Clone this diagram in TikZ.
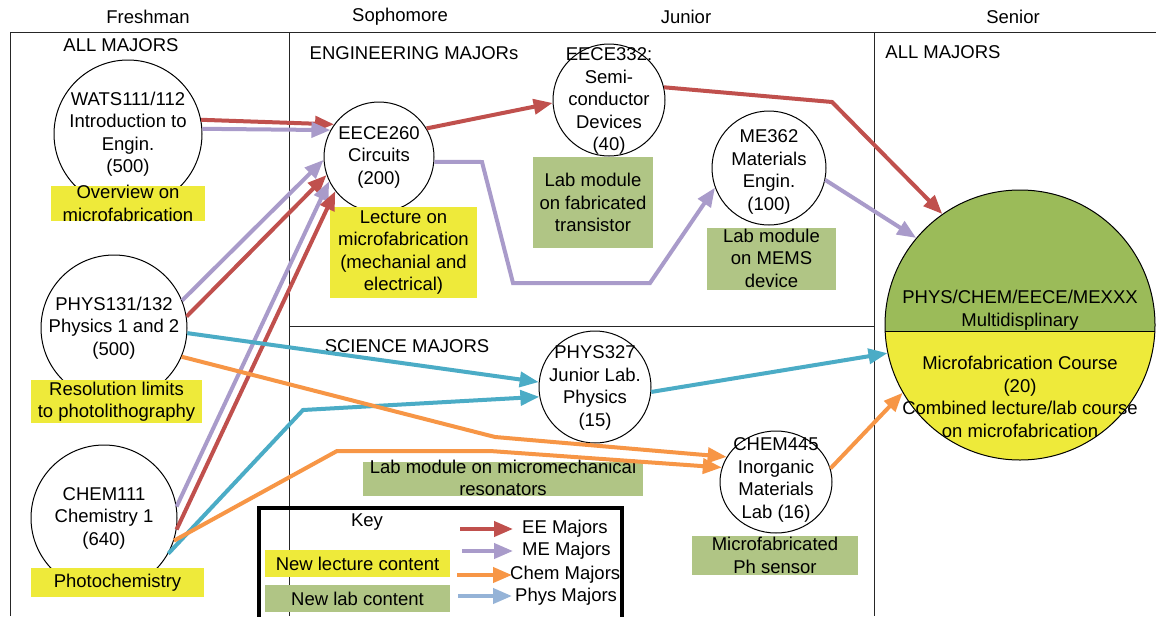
\documentclass[tikz,border=0pt]{standalone}
\usepackage{fontspec}
\setmainfont{Liberation Sans}
\usetikzlibrary{arrows.meta,shapes.geometric}
\definecolor{eered}{RGB}{192,80,77}
\definecolor{mepurple}{RGB}{169,155,202}
\definecolor{chemorange}{RGB}{247,150,70}
\definecolor{physteal}{RGB}{75,172,198}
\definecolor{keyblue}{RGB}{149,179,215}
\definecolor{lecyellow}{RGB}{238,234,58}
\definecolor{labgreen}{RGB}{176,197,133}
\definecolor{biggreen}{RGB}{155,187,89}
\begin{document}
\begin{tikzpicture}[x=1pt,y=-1pt,
  font=\fontsize{18.5}{22.5}\selectfont,
  course/.style={circle, draw=black, line width=1pt, fill=white, inner sep=0pt},
  txt/.style={inner sep=0pt, align=center},
  lec/.style={fill=lecyellow, inner sep=0pt},
  lab/.style={fill=labgreen, inner sep=0pt},
  frameline/.style={draw=black!85, line width=1pt},
  arr/.style={line width=4pt, line join=miter, -{Triangle[length=19pt,width=15pt]}},
  ee/.style={arr, draw=eered},
  me/.style={arr, draw=mepurple},
  ch/.style={arr, draw=chemorange},
  ph/.style={arr, draw=physteal},
  kb/.style={arr, draw=keyblue}]
\useasboundingbox (0,0) rectangle (1156,616);
\fill[white] (0,0) rectangle (1156,616);

% frame
\draw[frameline] (10,616) -- (10,32) -- (1156,32);
\draw[frameline] (289,32) -- (289,616);
\draw[frameline] (874,32) -- (874,616);
\draw[frameline] (289,326) -- (874,326);

% headers
\node[txt] (hfr) at (148,17) {Freshman};
\node[txt] (hso) at (400,17) {Sophomore};
\node[txt] (hju) at (686,17) {Junior};
\node[txt] (hse) at (1013,17) {Senior};
\node[txt] (allA) at (121,45) {ALL MAJORS};
\node[txt] (allB) at (943,52) {ALL MAJORS};
\node[txt] (engm) at (414,53) {ENGINEERING MAJORs};
\node[txt] (scim) at (407,346) {SCIENCE MAJORS};

% courses
\node[course, minimum size=148pt] (wats) at (128,134) {};
\node[txt] (watst) at (wats) {WATS111/112\\Introduction to\\Engin.\\(500)};
\node[course, minimum size=146pt] (phys131) at (114,328) {};
\node[txt] (phys131t) at (phys131) {PHYS131/132\\Physics 1 and 2\\(500)};
\node[course, minimum size=146pt] (chem111) at (104,518) {};
\node[txt] (chem111t) at (chem111) {CHEM111\\Chemistry 1\\(640)};
\node[course, minimum size=110pt] (eece260) at (379,157) {};
\node[txt] (eece260t) at (eece260) {EECE260\\Circuits\\(200)};
\node[course, minimum size=112pt] (eece332) at (609,100) {};
\node[txt] (eece332t) at (609,101) {EECE332:\\Semi-\\conductor\\Devices\\(40)};
\node[course, minimum size=114pt] (me362) at (769,168) {};
\node[txt] (me362t) at (769,172) {ME362\\Materials\\Engin.\\(100)};
\node[course, minimum size=112pt] (phys327) at (595,387) {};
\node[txt] (phys327t) at (595,388) {PHYS327\\Junior Lab.\\Physics\\(15)};
\node[course, ellipse, minimum width=112pt, minimum height=102pt] (chem445) at (776,482) {};
\node[txt] (chem445t) at (776,480) {CHEM445\\Inorganic\\Materials\\Lab (16)};

% big senior course
\begin{scope}
\clip (1020,325) circle[radius=135pt];
\fill[biggreen] (880,185) rectangle (1160,331);
\fill[lecyellow] (880,331) rectangle (1160,465);
\end{scope}
\draw[line width=1pt] (885,331) -- (1155,331);
\node[circle, draw=black, line width=1pt, minimum size=270pt, inner sep=0pt] (big) at (1020,325) {};
\node[txt] (bigA) at (1020,310) {PHYS/CHEM/EECE/MEXXX\\Multidisplinary};
\node[txt] (bigB) at (1020,397) {Microfabrication Course\\(20)\\Combined lecture/lab course\\on microfabrication};

% content boxes
\node[lec, minimum width=154pt, minimum height=35pt] (b1) at (128,203.5) {};
\node[txt] (b1t) at (b1) {Overview on\\microfabrication};
\node[lec, minimum width=171pt, minimum height=43pt] (b2) at (116.5,401.5) {};
\node[txt] (b2t) at (b2) {Resolution limits\\to photolithography};
\node[lec, minimum width=173pt, minimum height=29pt] (b3) at (117.5,582.5) {};
\node[txt] (b3t) at (b3) {Photochemistry};
\node[lec, minimum width=147pt, minimum height=91pt] (b4) at (403.5,252.5) {};
\node[txt] (b4t) at (b4) {Lecture on\\microfabrication\\(mechanial and\\electrical)};
\node[lab, minimum width=120pt, minimum height=91pt] (b5) at (593,202.5) {};
\node[txt] (b5t) at (b5) {Lab module\\on fabricated\\transistor};
\node[lab, minimum width=129pt, minimum height=62pt] (b6) at (771.5,259) {};
\node[txt] (b6t) at (771.5,258) {Lab module\\on MEMS\\device};
\node[lab, minimum width=280pt, minimum height=34pt] (b7) at (503,479) {};
\node[txt] (b7t) at (503,478) {Lab module on micromechanical\\resonators};
\node[lab, minimum width=166pt, minimum height=39pt] (b8) at (775,555.5) {};
\node[txt] (b8t) at (b8) {Microfabricated\\Ph sensor};

% connectors
\draw[ee] (wats.11) -- (eece260.144);
\draw[me] (wats.4) -- (eece260.151);
\draw[me] (phys131.22) -- (eece260.183);
\draw[ee] (phys131.9) -- (eece260.199);
\draw[me] (chem111.9) -- (eece260.206);
\draw[ee] (chem111.351) -- (eece260.218);
\draw[ee] (eece260.31) -- (eece332.183);
\draw[ee] (eece332.13) -- (832,102) -- (big.125);
\draw[me] (eece260.355) -- (482,162) -- (513,283) -- (650,283) -- (me362.200);
\draw[me] (me362.348) -- (big.140);
\draw[ph] (phys131.356) -- (phys327.175);
\draw[ph] (chem111.331) -- (303,410) -- (phys327.190);
\draw[ph] (phys327.355) -- (big.192);
\draw[ch] (phys131.337) -- (495,437) -- (chem445.153);
\draw[ch] (chem111.342) -- (337,451) -- (490,451) -- (chem445.165);
\draw[ch] (chem445.14) -- (big.210);

% key
\draw[line width=4.5pt] (259,625) -- (259,508) -- (622,508) -- (622,625);
\node[txt] (key) at (367,522) {Key};
\node[lec, minimum width=185pt, minimum height=27pt] (klec) at (357.5,563.5) {};
\node[txt] (klect) at (klec) {New lecture content};
\node[lab, minimum width=185pt, minimum height=27pt] (klab) at (357.5,598.5) {};
\node[txt] (klabt) at (klab) {New lab content};
\coordinate (k1a) at (460,529); \coordinate (k1b) at (513,529);
\coordinate (k2a) at (462,551); \coordinate (k2b) at (513,551);
\coordinate (k3a) at (457,575); \coordinate (k3b) at (512,575);
\coordinate (k4a) at (458,596); \coordinate (k4b) at (512,596);
\draw[ee] (k1a) -- (k1b);
\draw[me] (k2a) -- (k2b);
\draw[ch] (k3a) -- (k3b);
\draw[kb] (k4a) -- (k4b);
\node[txt, anchor=west] (kl1) at (522,529) {EE Majors};
\node[txt, anchor=west] (kl2) at (522,551) {ME Majors};
\node[txt, anchor=west] (kl3) at (510,575) {Chem Majors};
\node[txt, anchor=west] (kl4) at (515,597) {Phys Majors};
\end{tikzpicture}
\end{document}
